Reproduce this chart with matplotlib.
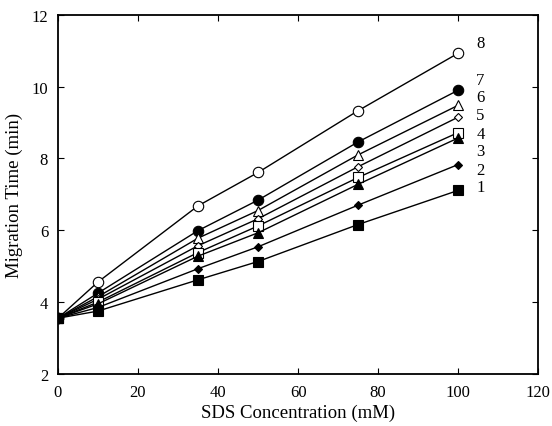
import numpy as np
import matplotlib
matplotlib.use('Agg')
import matplotlib.pyplot as plt

plt.rcParams['font.family'] = ['Liberation Serif', 'DejaVu Serif']

sds = [0, 10, 35, 50, 75, 100]

# migration times (min) for compounds 1-8
t1 = [3.55, 3.75, 4.62, 5.13, 6.16, 7.11]
t2 = [3.55, 3.85, 4.93, 5.54, 6.70, 7.83]
t3 = [3.55, 3.95, 5.28, 5.93, 7.28, 8.57]
t4 = [3.55, 4.00, 5.38, 6.12, 7.47, 8.72]
t5 = [3.55, 4.08, 5.57, 6.32, 7.77, 9.15]
t6 = [3.55, 4.15, 5.78, 6.55, 8.10, 9.48]
t7 = [3.55, 4.25, 5.99, 6.84, 8.46, 9.90]
t8 = [3.55, 4.56, 6.68, 7.61, 9.33, 10.93]

labels = ['1', '2', '3', '4', '5', '6', '7', '8']
label_y = [7.21, 7.68, 8.2, 8.68, 9.2, 9.7, 10.18, 11.22]

series = [t1, t2, t3, t4, t5, t6, t7, t8]
styles = [('s', 'k', 6.5), ('D', 'k', 4.5), ('^', 'k', 6.5), ('s', 'w', 6.5),
          ('D', 'w', 4.5), ('^', 'w', 6.5), ('o', 'k', 7.5), ('o', 'w', 7.5)]

fig = plt.figure(figsize=(5.52, 4.27), dpi=100)
ax = fig.add_axes([0.105, 0.122, 0.87, 0.841])

# draw 8 first so compound 1 ends up on top
for y, (m, fc, ms) in reversed(list(zip(series, styles))):
    ax.plot(sds, y, color='k', lw=1.0, marker=m, markersize=ms,
            markerfacecolor=fc, markeredgecolor='k', markeredgewidth=0.8)

for lab, ly in zip(labels, label_y):
    ax.text(104.5, ly, lab, fontsize=12, va='center', ha='left')

ax.set_xlim(0, 120)
ax.set_ylim(2, 12)
ax.set_xticks(np.arange(0, 121, 20))
ax.set_yticks(np.arange(2, 13, 2))
ax.tick_params(direction='in', top=True, right=True, labelsize=12, length=4, width=0.8, pad=7)
for s in ax.spines.values():
    s.set_linewidth(1.3)

ax.set_xlabel('SDS Concentration (mM)', fontsize=13.5, labelpad=3)
ax.set_ylabel('Migration Time (min)', fontsize=13.5, labelpad=6)

fig.savefig('out.png', dpi=100)
